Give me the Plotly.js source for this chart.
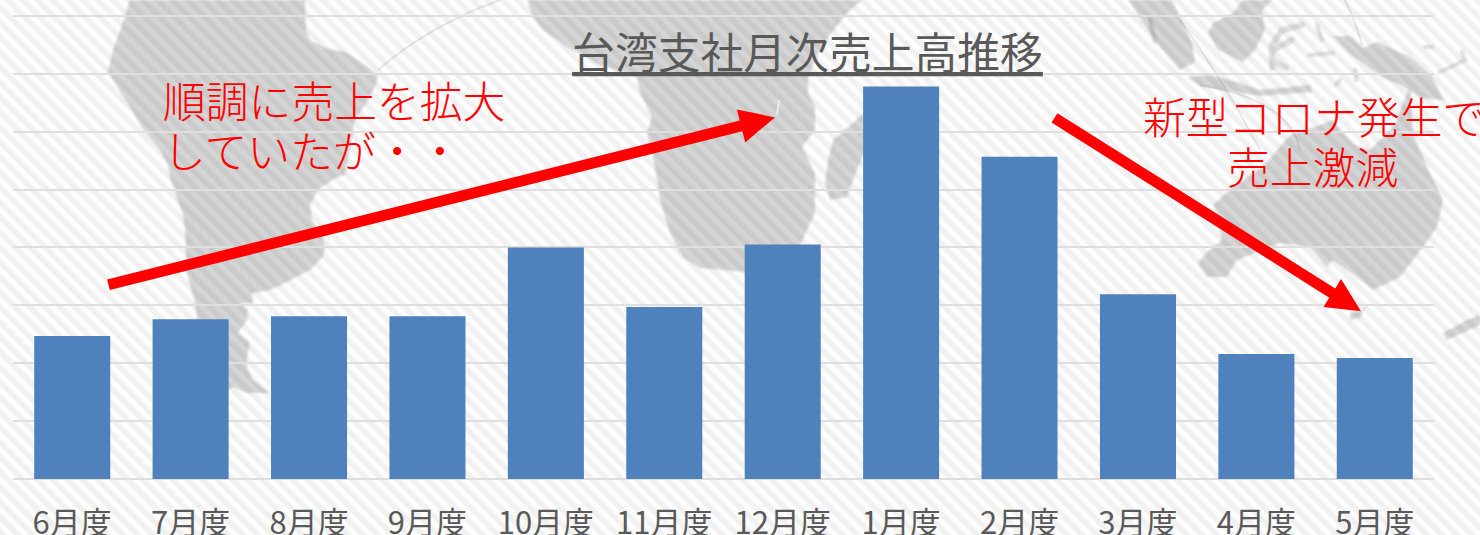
<!DOCTYPE html>
<html><head><meta charset="utf-8">
<script src="https://cdn.plot.ly/plotly-3.0.0.min.js"></script>
<style>
html,body{margin:0;padding:0;width:1480px;height:535px;overflow:hidden;background:#fff}
#bg{position:absolute;left:0;top:0;width:1480px;height:535px;
background:repeating-linear-gradient(45deg,#f1f1f1 0,#f1f1f1 4.2px,#fcfcfc 5.4px,#fff 9.2px,#f1f1f1 10.6px)}
#bg svg{position:absolute;left:0;top:0}
#chart{position:absolute;left:0;top:0;width:1480px;height:535px}
</style></head><body>
<div id="bg"><svg width="1480" height="535" viewBox="0 0 1480 535">
<defs><filter id="s"><feGaussianBlur stdDeviation="0.8"/></filter></defs>
<g fill="rgba(0,0,0,0.16)" stroke="none" filter="url(#s)">
<path d="M130,0 L122,25 L113,50 L108,72 L118,88 L132,110 L142,128 L160,150 L168,165 L170,178 L176,195 L183,215 L185,230 L187,273 L195,303 L197,320 L228,390 L233,387 L247,393 L270,393 L253,380 L247,367 L247,357 L250,343 L238,333 L247,320 L248,310 L240,303 L253,303 L252,293 L270,290 L285,283 L310,270 L322,258 L325,250 L322,235 L312,220 L310,205 L318,190 L335,178 L345,175 L355,120 L365,105 L376,85 L378,75 L365,65 L345,52 L325,48 L310,40 L306,30 L305,0 Z"/>
<path d="M527,0 L533,17 L543,30 L567,47 L600,65 L637,77 L640,93 L652,117 L647,133 L655,167 L660,200 L670,233 L683,257 L700,268 L745,272 L800,245 L807,230 L815,213 L815,173 L802,147 L815,130 L815,107 L808,93 L808,77 L822,45 L847,13 L862,0 Z"/>
<path d="M863,113 L853,123 L833,140 L828,160 L825,183 L830,200 L847,197 L853,180 L865,150 Z"/>
<path d="M1213,205 L1235,185 L1262,168 L1290,135 L1307,130 L1333,120 L1345,135 L1355,145 L1370,150 L1385,135 L1395,125 L1400,110 L1410,87 L1413,133 L1427,167 L1443,200 L1437,227 L1423,247 L1400,277 L1373,290 L1357,277 L1333,260 L1327,267 L1310,247 L1280,243 L1237,260 L1227,277 L1207,277 L1198,263 L1207,252 L1222,240 L1217,213 Z"/>
<path d="M1350,313 L1363,310 L1368,303 L1360,318 L1350,320 Z"/>
<path d="M1443,333 L1467,320 L1480,315 L1480,325 L1447,340 Z"/>
<path d="M1128,0 L1145,25 L1160,47 L1180,70 L1195,62 L1192,43 L1180,17 L1172,0 Z"/>
<path d="M1208,33 L1218,50 L1243,62 L1255,50 L1265,30 L1262,10 L1272,0 L1243,0 L1233,13 L1213,23 Z"/>
<path d="M1187,77 L1210,75 L1237,82 L1260,90 L1310,85 L1312,92 L1260,96 L1230,91 L1200,86 Z"/>
<path d="M1333,36 L1350,36 L1363,48 L1377,42 L1410,57 L1432,77 L1444,100 L1420,98 L1403,86 L1383,78 L1367,66 L1350,54 Z"/>
</g>
<g fill="none" stroke="rgba(0,0,0,0.13)" stroke-linecap="round" filter="url(#s)">
<path stroke-width="6" d="M1272,68 L1272,45 L1282,30 L1302,25 M1273,50 L1292,40 M1272,60 L1286,68"/>
<path stroke-width="4" d="M1317,25 L1322,40 M1310,55 L1333,53 M1440,72 L1465,60 L1462,52 M1150,20 L1155,42 M1425,47 L1432,47 M1336,85 L1340,80 M1355,70 L1356,80"/>
</g>
<g fill="none" stroke="rgba(0,0,0,0.09)" stroke-width="2">
<path d="M378,70 Q430,25 500,0"/>
<path d="M1180,20 Q1220,75 1260,150"/>
<path d="M1200,85 Q1290,100 1300,150"/>
<path d="M1345,0 Q1355,20 1362,45"/>
</g>
<path d="M779,100 L777,115" stroke="#ececec" stroke-width="2" fill="none"/>
</svg></div>
<div id="chart"></div>
<script>
var categories = ['6月度','7月度','8月度','9月度','10月度','11月度','12月度','1月度','2月度','3月度','4月度','5月度'];
var sales = [247,276,281,281,400,297,405,678,557,319,216,209];
var chartTitle = '台湾支社月次売上高推移';
var gridTicks = [0,100,200,300,400,500,600,700,800];
var font = '"Noto Sans CJK JP","Noto Sans",sans-serif';

var W=1480,H=535,L=13,R=46,T=14.5,B=56;
var PW=W-L-R, PH=H-T-B;
function fx(x){return (x-L)/PW;}
function fy(y){return (H-B-y)/PH;}
function arrow(x0,y0,x1,y1,w,hl,hw){
  var d=Math.hypot(x1-x0,y1-y0),ux=(x1-x0)/d,uy=(y1-y0)/d,nx=-uy,ny=ux;
  var bx=x1-ux*hl,by=y1-uy*hl;
  var p=[[x0+nx*w/2,y0+ny*w/2],[bx+nx*w/2,by+ny*w/2],[bx+nx*hw/2,by+ny*hw/2],[x1,y1],
         [bx-nx*hw/2,by-ny*hw/2],[bx-nx*w/2,by-ny*w/2],[x0-nx*w/2,y0-ny*w/2]];
  return {type:'path',xref:'paper',yref:'paper',layer:'above',fillcolor:'#ff0000',line:{width:0},
    path:'M'+p.map(function(q){return fx(q[0])+','+fy(q[1]);}).join(' L')+' Z'};
}
function label(t,x,y,anchor){
  return {text:t,xref:'paper',yref:'paper',x:fx(x),y:fy(y),xanchor:anchor,yanchor:'middle',showarrow:false,
    font:{family:font,size:42.8,color:'#ff0000',weight:300}};
}
var gridTop={type:'line',xref:'paper',yref:'y',x0:0,x1:1,y0:gridTicks[gridTicks.length-1],y1:gridTicks[gridTicks.length-1],layer:'below',line:{color:'#DFDFDF',width:2}};
var trace={type:'bar',x:categories,y:sales,width:0.642,marker:{color:'#4F81BD',line:{width:0}},hoverinfo:'x+y'};
var layout={
  width:W,height:H,margin:{l:L,r:R,t:T,b:B,pad:0},
  paper_bgcolor:'rgba(0,0,0,0)',plot_bgcolor:'rgba(0,0,0,0)',showlegend:false,
  title:{text:chartTitle,x:807.5/W,xref:'container',xanchor:'center',y:1-54/H,yref:'container',yanchor:'middle',
    font:{family:font,size:42.8,color:'#595959',weight:400,lineposition:'under'}},
  xaxis:{type:'category',showgrid:false,zeroline:false,showline:false,ticks:'outside',ticklen:17,tickcolor:'rgba(0,0,0,0)',
    tickfont:{family:font,size:31,color:'#595959'},tickangle:0,automargin:false},
  yaxis:{range:[0,801.7],tickmode:'array',tickvals:gridTicks,showgrid:true,gridcolor:'#DFDFDF',gridwidth:2,zeroline:true,zerolinecolor:'#DFDFDF',zerolinewidth:2,
    showticklabels:false,ticks:'',showline:false,automargin:false},
  bargap:0.358,
  shapes:[gridTop,arrow(108.5,284.5,775,117,11,35,34),arrow(1054.5,117.5,1361,311,11,34,33)],
  annotations:[
    label('順調に売上を拡大',161,99,'left'),
    label('していたが・・',161,149,'left'),
    label('新型コロナ発生で',1141,115,'left'),
    label('売上激減',1312,165,'center')
  ]
};
Plotly.newPlot('chart',[trace],layout,{displayModeBar:false,staticPlot:true});
</script>
</body></html>
